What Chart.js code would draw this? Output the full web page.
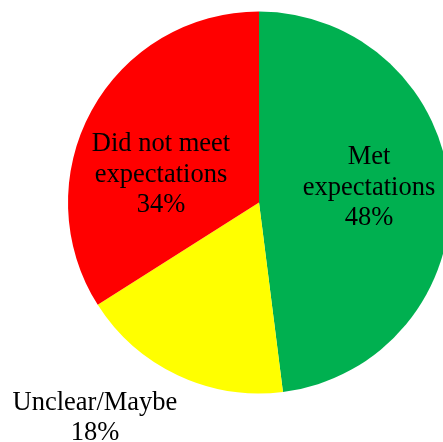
<!DOCTYPE html>
<html>
<head>
<meta charset="utf-8">
<script src="https://cdn.jsdelivr.net/npm/chart.js@4.4.0/dist/chart.umd.min.js"></script>
<style>
  html, body { margin: 0; padding: 0; background: #fff; overflow: hidden; }
  #pie { display: block; }
</style>
</head>
<body>
<canvas id="pie" width="443" height="442"></canvas>
<script>
var categories = ["Met expectations", "Unclear/Maybe", "Did not meet expectations"];
var shares = [48, 18, 34];
var sliceColors = ["#00B050", "#FFFF00", "#FF0000"];

// label text lines per slice, and where each block sits (fraction of radius from centre)
var labelLines = [
  ["Met", "expectations", "48%"],
  ["Unclear/Maybe", "18%"],
  ["Did not meet", "expectations", "34%"],
];
var labelAnchors = [
  [0.576, -0.076],
  [-0.859, 1.128],
  [-0.513, -0.144],
];

var sliceLabels = {
  id: "sliceLabels",
  afterDatasetsDraw: function (chart) {
    var arcs = chart.getDatasetMeta(0).data;
    var ctx = chart.ctx;
    ctx.save();
    ctx.font = "26.5px 'Liberation Serif', 'Times New Roman', serif";
    ctx.fillStyle = "#000";
    ctx.textAlign = "center";
    ctx.textBaseline = "middle";
    var lh = 30.5;
    arcs.forEach(function (arc, i) {
      var r = arc.outerRadius;
      var cx = arc.x + labelAnchors[i][0] * r;
      var cy = arc.y + labelAnchors[i][1] * r;
      var lines = labelLines[i];
      lines.forEach(function (t, j) {
        ctx.fillText(t, cx, cy + (j - (lines.length - 1) / 2) * lh);
      });
    });
    ctx.restore();
  },
};

var ctx = document.getElementById("pie").getContext("2d");
window.pie = new Chart(ctx, {
  type: "pie",
  data: {
    labels: categories,
    datasets: [
      {
        data: shares,
        backgroundColor: sliceColors,
        borderWidth: 0,
        clip: false,
      },
    ],
  },
  options: {
    responsive: false,
    animation: false,
    radius: 191,
    layout: {
      padding: { left: 75, top: 0, right: 0, bottom: 37 },
    },
    plugins: {
      legend: { display: false },
      tooltip: { enabled: false },
    },
  },
  plugins: [sliceLabels],
});
</script>
</body>
</html>
